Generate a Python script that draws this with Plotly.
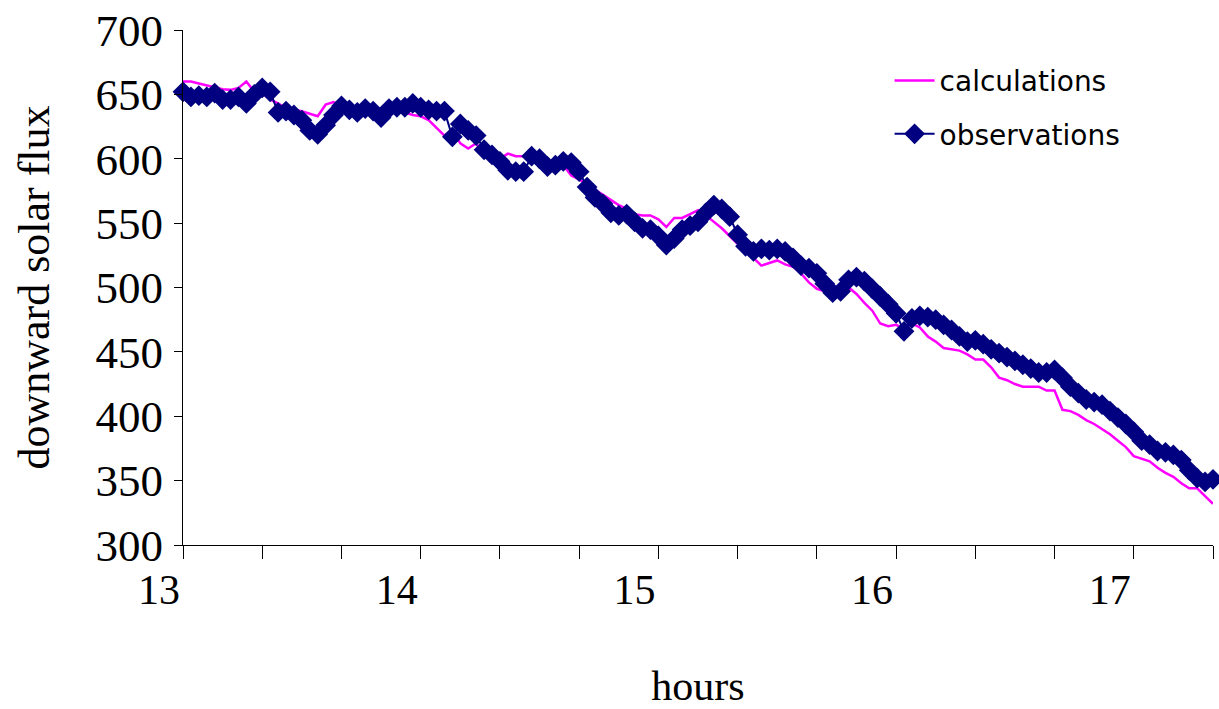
import numpy as np
import plotly.graph_objects as go

# Time axis: 2-minute samples starting at 13:00 (hours as decimals)
n_points = 131
hours = 13 + np.arange(n_points) / 30.0

# Modelled downward solar flux
calculations = [
    660, 660, 658.5, 657, 656, 654, 653.5, 655, 660, 652,
    651, 646, 643, 639, 638, 637, 635, 633, 642, 644,
    641, 639, 638, 640, 638, 636, 639, 637, 636, 634,
    633, 630, 624, 618, 622, 612, 608, 612, 603, 600,
    600, 604, 602, 602, 601, 600, 598, 596, 595, 587,
    584, 580, 576, 572, 568, 564, 561, 557, 556, 556,
    553, 547, 554, 554, 557, 560, 556, 551, 546, 540,
    534, 529, 523, 517, 519, 521, 518, 516, 511, 504,
    499, 497, 497, 498, 500, 495, 488, 482, 472, 470,
    471, 468, 472, 469, 462, 458, 453, 452, 451, 448,
    444, 444, 438, 430, 428, 425, 423, 423, 423, 420,
    420, 405, 404, 401, 397, 394, 390, 386, 381, 376,
    369, 367, 365, 360, 356, 353, 348, 344, 344, 338,
    332,
]

# Measured downward solar flux
observations = [
    652, 648, 649, 648, 651, 646, 646, 648, 643, 650,
    655, 652, 636, 637, 634, 630, 622, 619, 626, 634,
    641, 638, 636, 639, 637, 632, 639, 640, 640, 643,
    640, 638, 637, 637, 617, 627, 622, 618, 607, 603,
    598, 591, 590, 590, 602, 600, 594, 595, 598, 597,
    590, 578, 570, 565, 558, 556, 557, 551, 546, 545,
    540, 533, 538, 545, 548, 551, 558, 564, 561, 555,
    541, 532, 528, 530, 529, 530, 528, 523, 517, 515,
    511, 503, 496, 497, 506, 508, 505, 499, 493, 487,
    480, 466, 476, 478, 477, 475, 471, 467, 462, 458,
    459, 456, 452, 449, 446, 443, 440, 437, 434, 434,
    436, 430, 423, 418, 413, 411, 409, 404, 399, 394,
    388, 381, 378, 373, 372, 370, 366, 358, 352, 349,
    351,
]

# Axis ticks: marks every 20 minutes, labels on the hour
x_tick_vals = [13 + k / 3.0 for k in range(14)]
x_tick_text = [str(13 + k // 3) if k % 3 == 0 else "" for k in range(14)]
y_tick_vals = list(range(300, 701, 50))

fig = go.Figure()

fig.add_trace(go.Scatter(
    x=hours, y=calculations, mode="lines", name="calculations",
    line=dict(color="#FF00FF", width=2.5),
    legendgroup="calc", cliponaxis=False,
))
fig.add_trace(go.Scatter(
    x=hours, y=observations, mode="lines+markers", name="observations",
    line=dict(color="#000080", width=2),
    marker=dict(symbol="diamond", size=16, color="#000080"),
    legendgroup="obs", cliponaxis=False,
))

serif = "Liberation Serif, Times New Roman, serif"

fig.update_layout(
    width=1219, height=709,
    margin=dict(l=183, r=6, t=26, b=164),
    paper_bgcolor="white", plot_bgcolor="white",
    showlegend=True,
    legend=dict(
        x=0.686, y=0.95, xanchor="left", yanchor="top",
        font=dict(family="DejaVu Sans, Arial, sans-serif", size=28, color="black"),
        bgcolor="rgba(0,0,0,0)", traceorder="grouped", tracegroupgap=14,
        itemwidth=40,
    ),
    xaxis=dict(
        range=[13, 13 + 130 / 30.0],
        tickmode="array", tickvals=x_tick_vals, ticktext=x_tick_text,
        ticks="outside", ticklen=13, tickcolor="black", tickwidth=1,
        showline=True, linecolor="black", linewidth=1,
        showgrid=False, zeroline=False,
        tickfont=dict(family=serif, size=42, color="black"),
        ticklabelshift=-24, ticklabelstandoff=-5,
        title=dict(text="hours", font=dict(family=serif, size=42, color="black"), standoff=58),
    ),
    yaxis=dict(
        range=[300, 700],
        tickmode="array", tickvals=y_tick_vals,
        ticks="outside", ticklen=8, tickcolor="black", tickwidth=1,
        showline=True, linecolor="black", linewidth=1,
        showgrid=False, zeroline=False,
        tickfont=dict(family=serif, size=45, color="black"),
        ticklabelstandoff=2,
        title=dict(text="downward solar flux", font=dict(family=serif, size=44, color="black"), standoff=32),
    ),
)

fig.write_html("out.html")
